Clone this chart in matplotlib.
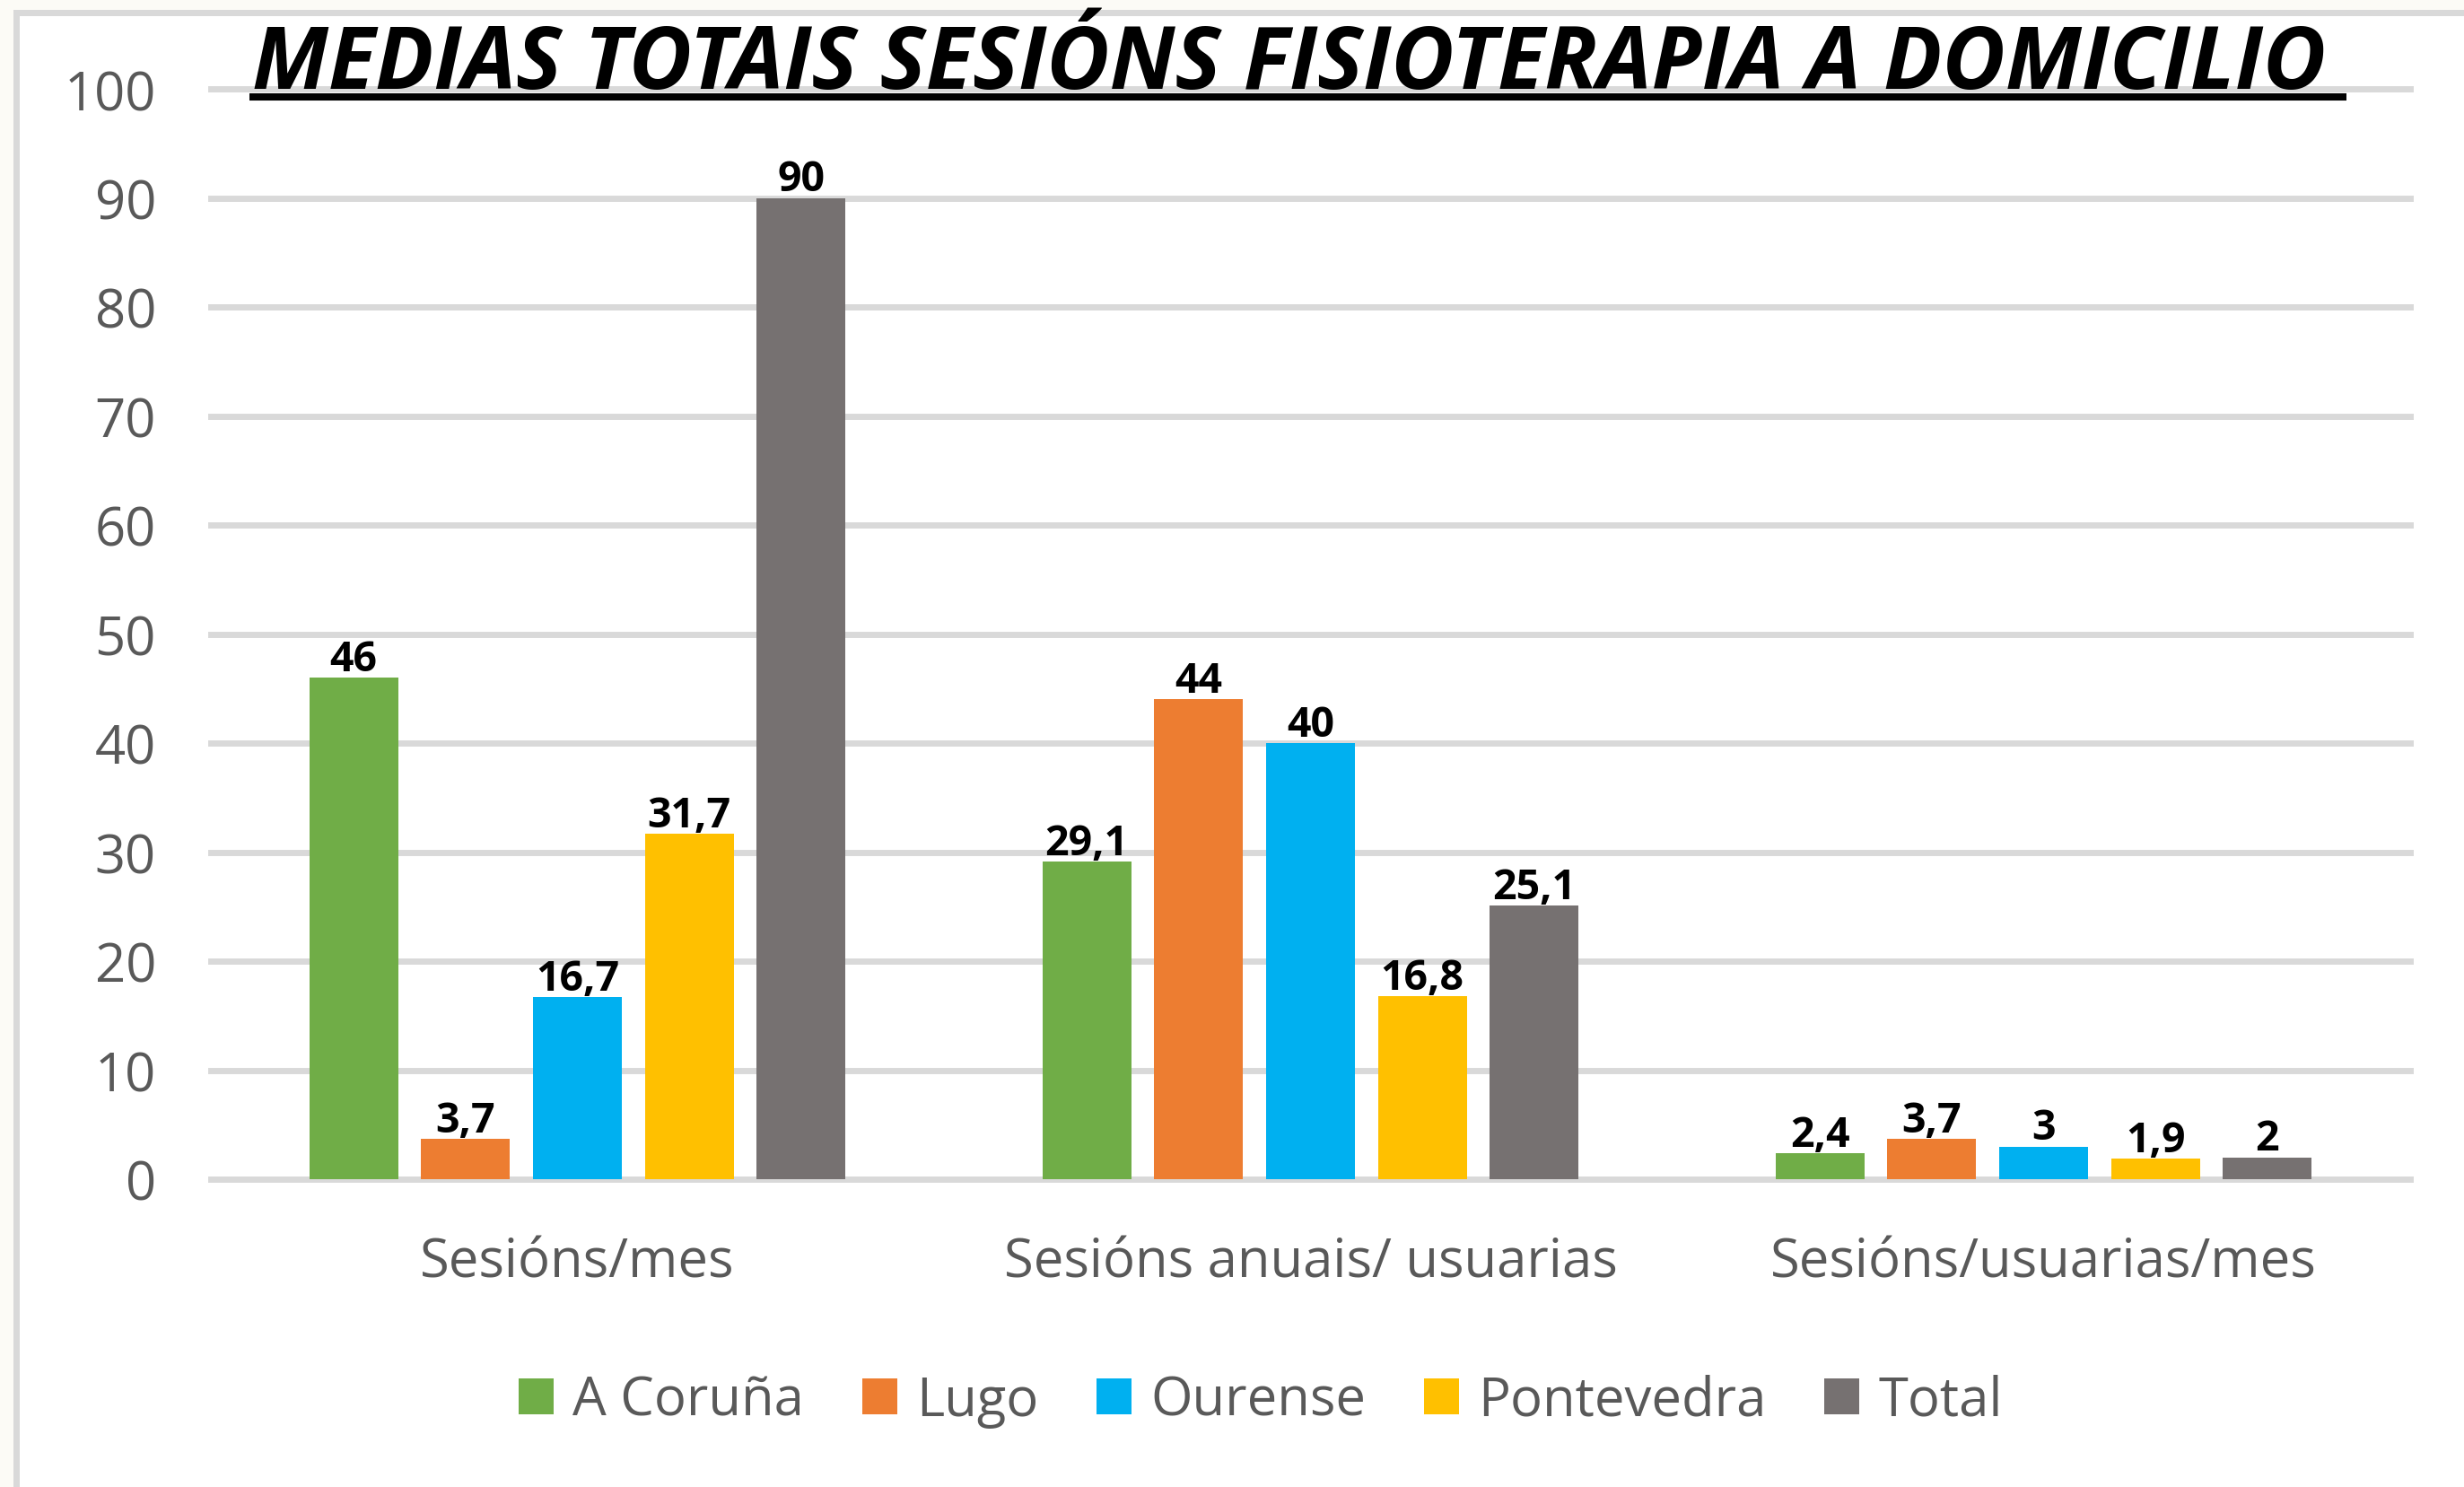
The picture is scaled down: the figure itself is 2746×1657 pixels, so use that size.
import matplotlib
matplotlib.use("Agg")
import matplotlib.pyplot as plt
from matplotlib.patches import Rectangle
from matplotlib.lines import Line2D
import numpy as np

categories = ["Sesións/mes", "Sesións anuais/ usuarias", "Sesións/usuarias/mes"]
series_names = ["A Coruña", "Lugo", "Ourense", "Pontevedra", "Total"]
a_coruna = [46, 29.1, 2.4]
lugo = [3.7, 44, 3.7]
ourense = [16.7, 40, 3]
pontevedra = [31.7, 16.8, 1.9]
total = [90, 25.1, 2]
yticks = [0, 10, 20, 30, 40, 50, 60, 70, 80, 90, 100]
title = "MEDIAS TOTAIS SESIÓNS FISIOTERAPIA A DOMICILIO"

series_values = [a_coruna, lugo, ourense, pontevedra, total]
colors = ["#70AD47", "#ED7D31", "#00B0F0", "#FFC000", "#767171"]

W, H = 2746, 1658
DPI = 100
plt.rcParams['font.family'] = ['Open Sans', 'DejaVu Sans']

fig = plt.figure(figsize=(W / DPI, H / DPI), dpi=DPI, facecolor="#FCFBF6")

def fx(px):
    return px / W

def fy(py):
    return 1 - py / H

# background panel and border
fig.patches.append(Rectangle((fx(15), 0), 1 - fx(15), fy(12), transform=fig.transFigure,
                             facecolor="white", edgecolor="none", zorder=-3))
fig.patches.append(Rectangle((fx(15), fy(19)), 1 - fx(15), fy(12) - fy(19), transform=fig.transFigure,
                             facecolor="#D9D9D9", edgecolor="none", zorder=-2))
fig.patches.append(Rectangle((fx(15), 0), fx(22) - fx(15), fy(12), transform=fig.transFigure,
                             facecolor="#D9D9D9", edgecolor="none", zorder=-2))

ax_left, ax_right = 235, 2686
ax_top, ax_bot = 100, 1315
ax = fig.add_axes([fx(ax_left), fy(ax_bot), fx(ax_right) - fx(ax_left), fy(ax_top) - fy(ax_bot)])
ax.patch.set_alpha(0)

x = np.arange(len(categories))
step = 0.1526
width = 0.121
for i, (name, vals, col) in enumerate(zip(series_names, series_values, colors)):
    pos = x + (i - 2) * step
    ax.bar(pos, vals, width=width, color=col, label=name, zorder=3)
    for xp, v in zip(pos, vals):
        txt = f"{v:g}".replace(".", ",")
        ax.annotate(txt, (xp, v), xytext=(0, 6), textcoords="offset points",
                    ha="center", va="baseline", fontsize=33.5, fontweight="bold",
                    color="black", zorder=5)

ax.set_xlim(-0.5, len(categories) - 0.5)
ax.set_ylim(0, 100)
for t in yticks:
    ax.axhline(t, color="#D9D9D9", lw=5, zorder=1, clip_on=False)

ax.set_yticks(yticks)
ax.set_yticklabels([str(t) for t in yticks])
ax.set_xticks(x)
ax.set_xticklabels(categories)
ax.tick_params(axis="y", length=0, pad=44, labelsize=43, labelcolor="#595959")
ax.tick_params(axis="x", length=0, pad=45, labelsize=43, labelcolor="#595959")
for s in ax.spines.values():
    s.set_visible(False)

# title
fig.text(fx(281), fy(99), title, ha="left", va="baseline", fontsize=69.5,
         fontweight="bold", fontstyle="italic", color="black", zorder=10)
fig.lines.append(Line2D([fx(278), fx(2615)], [fy(109), fy(109)], transform=fig.transFigure,
                        color="black", lw=5.8, solid_capstyle="butt", zorder=10))

handles, labels = ax.get_legend_handles_labels()
fig.legend(handles, labels, loc="center", bbox_to_anchor=(fx(1405), fy(1562)), ncol=5,
           frameon=False, fontsize=43, handlelength=0.65, handleheight=0.65,
           handletextpad=0.35, columnspacing=1.09, labelcolor="#595959")

fig.savefig("out.png", dpi=DPI, facecolor=fig.get_facecolor())
